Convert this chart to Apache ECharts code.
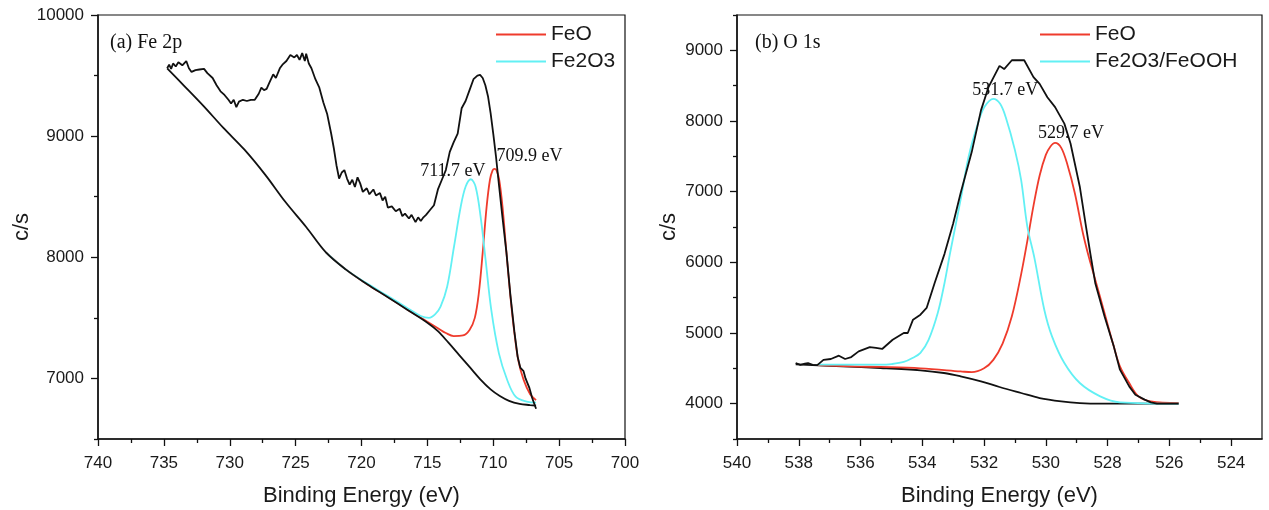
<!DOCTYPE html>
<html>
<head>
<meta charset="utf-8">
<title>XPS Fe 2p / O 1s</title>
<script src="https://cdn.jsdelivr.net/npm/echarts@6/dist/echarts.min.js"></script>
<style>
  html, body { margin: 0; padding: 0; background: #fff; }
  #chart { width: 1269px; height: 510px; }
</style>
</head>
<body>
<div id="chart"></div>
<script>
// ---------- (a) Fe 2p : [binding energy (eV), counts/s] ----------
const feRaw = [
  [734.75,9560],[734.6,9590],[734.45,9555],[734.3,9600],[734.1,9575],[733.9,9610],[733.6,9585],[733.3,9620],
  [733.1,9560],[732.9,9530],[732.6,9545],[732.3,9550],[731.95,9555],[731.7,9520],[731.3,9480],[731.0,9420],
  [730.7,9370],[730.4,9340],[730.1,9300],[729.9,9270],[729.7,9300],[729.5,9240],[729.3,9285],[729.0,9300],
  [728.7,9290],[728.4,9300],[728.1,9300],[727.8,9350],[727.6,9400],[727.4,9380],[727.2,9390],[727.0,9440],
  [726.7,9510],[726.5,9480],[726.2,9560],[726.0,9590],[725.7,9620],[725.4,9670],[725.1,9650],[724.9,9670],
  [724.7,9630],[724.5,9685],[724.3,9620],[724.2,9680],[724.0,9600],[723.8,9560],[723.5,9470],[723.2,9400],
  [722.9,9280],[722.6,9180],[722.3,9020],[722.1,8900],[721.9,8760],[721.7,8650],[721.5,8700],[721.3,8720],
  [721.1,8650],[720.9,8600],[720.7,8640],[720.5,8580],[720.3,8660],[720.1,8610],[719.9,8540],[719.6,8570],
  [719.4,8520],[719.1,8560],[718.9,8510],[718.6,8530],[718.4,8470],[718.2,8500],[718.0,8410],[717.7,8420],
  [717.4,8380],[717.1,8400],[716.9,8340],[716.7,8360],[716.4,8320],[716.2,8350],[715.9,8290],[715.7,8330],
  [715.5,8300],[715.3,8330],[715.1,8350],[714.8,8390],[714.5,8430],[714.2,8560],[713.9,8640],[713.6,8720],
  [713.3,8870],[713.0,8950],[712.7,9020],[712.4,9230],[712.1,9290],[711.8,9380],[711.5,9470],[711.2,9500],
  [711.0,9505],[710.8,9480],[710.6,9420],[710.4,9330],[710.2,9190],[710.0,9020],[709.8,8840],[709.55,8580],
  [709.3,8330],[709.0,8040],[708.7,7690],[708.4,7390],[708.15,7180],[707.95,7090],[707.7,7060],[707.55,7000],
  [707.4,6995],[707.25,6920],[707.05,6840],[706.75,6750]
];
const feBackground = [
  [734.75,9560],[733.5,9420],[732.0,9250],[730.5,9070],[728.9,8890],[727.3,8680],[725.8,8460],[724.2,8250],
  [722.7,8040],[721.2,7900],[719.6,7780],[718.0,7670],[716.5,7565],[715.0,7460],[714.2,7390],[713.4,7295],
  [712.6,7195],[711.8,7095],[711.0,6995],[710.2,6910],[709.5,6855],[708.8,6815],[708.0,6790],[707.2,6780],
  [706.75,6775]
];
const feFeOPeak = [709.9, 8730];
const feFeO = [
  [722.7,8040],[721.2,7900],[719.6,7780],[718.0,7672],[716.5,7568],[715.0,7468],[714.2,7415],[713.6,7375],
  [713.0,7350],[712.3,7355],[711.8,7400],[711.4,7500],[711.1,7700],[710.8,8040],[710.5,8420],[710.25,8640],
  [710.05,8718],feFeOPeak,[709.75,8718],[709.55,8640],[709.3,8420],[709.0,8040],[708.7,7680],[708.4,7380],
  [708.1,7150],[707.7,6990],[707.2,6870],[706.75,6821]
];
const feFe2O3Peak = [711.7, 8644];
const feFe2O3 = [
  [722.7,8040],[721.2,7900],[719.6,7785],[718.0,7680],[716.5,7580],[715.5,7515],[714.88,7500],[714.4,7530],
  [714.0,7592],[713.5,7757],[712.98,8087],[712.47,8417],[712.1,8582],feFe2O3Peak,[711.34,8582],[710.96,8335],
  [710.58,7978],[710.15,7565],[709.57,7207],[708.94,6987],[708.3,6849],[707.46,6808],[706.75,6800]
];

// ---------- (b) O 1s ----------
const oRaw = [
  [538.1,4575],[537.95,4550],[537.8,4565],[537.7,4575],[537.55,4550],[537.4,4545],[537.2,4620],[536.96,4632],
  [536.7,4679],[536.5,4632],[536.3,4660],[536.06,4740],[535.7,4800],[535.5,4788],[535.3,4774],[534.96,4905],
  [534.6,5000],[534.47,5000],[534.3,5189],[534.06,5259],[533.86,5354],[533.6,5708],[533.28,6120],[533.0,6550],
  [532.76,6977],[532.4,7560],[532.1,8150],[531.86,8475],[531.5,8780],[531.35,8735],[531.1,8860],[530.7,8860],
  [530.4,8620],[530.2,8525],[529.95,8337],[529.7,8197],[529.4,7963],[529.2,7681],[528.9,7070],[528.7,6510],
  [528.55,6100],[528.4,5708],[528.1,5236],[527.8,4811],[527.6,4481],[527.3,4245],[527.1,4127],[526.8,4057],
  [526.6,4019],[526.4,4000],[525.7,4000]
];
const oBackground = [
  [538.1,4555],[536.6,4528],[535.35,4505],[534.06,4472],[533.3,4434],[532.76,4387],[532.1,4316],[531.5,4236],
  [530.8,4151],[530.2,4080],[529.5,4033],[528.9,4009],[528.24,4000],[525.7,4000]
];
const oFeOPeak = [529.7, 7691];
const oFeO = [
  [537.4,4545],[536.0,4525],[535.35,4520],[534.06,4500],[532.76,4457],[532.4,4445],[532.0,4500],[531.7,4620],
  [531.4,4850],[531.1,5236],[530.8,5830],[530.6,6300],[530.4,6800],[530.2,7230],[530.0,7520],[529.85,7640],
  oFeOPeak,[529.5,7620],[529.3,7380],[529.06,6977],[528.8,6415],[528.6,6063],[528.4,5755],[528.1,5283],
  [527.8,4811],[527.6,4528],[527.3,4292],[527.0,4104],[526.6,4033],[525.7,4009]
];
const oFe2O3Peak = [531.7, 8314];
const oFe2O3 = [
  [537.4,4552],[535.35,4552],[535.0,4560],[534.6,4590],[534.3,4650],[534.06,4720],[533.8,4900],[533.5,5283],
  [533.28,5708],[533.1,6132],[532.76,6883],[532.5,7494],[532.2,7963],[531.99,8197],oFe2O3Peak,[531.48,8244],
  [531.3,8056],[531.0,7588],[530.8,7166],[530.6,6510],[530.37,6063],[530.05,5330],[529.8,4953],[529.4,4575],
  [528.9,4292],[528.24,4104],[527.6,4019],[525.7,4000]
];

// ---------- axis ticks ----------
const feXTicks = [740, 735, 730, 725, 720, 715, 710, 705, 700];
const feXMinor = [737.5, 732.5, 727.5, 722.5, 717.5, 712.5, 707.5, 702.5];
const feYTicks = [7000, 8000, 9000, 10000];
const feYMinor = [6500, 7500, 8500, 9500];
const oXTicks = [540, 538, 536, 534, 532, 530, 528, 526, 524];
const oXMinor = [539, 537, 535, 533, 531, 529, 527, 525];
const oYTicks = [4000, 5000, 6000, 7000, 8000, 9000];
const oYMinor = [3500, 4500, 5500, 6500, 7500, 8500, 9500];

const SANS = 'Liberation Sans, Arial, Helvetica, sans-serif';
const SERIF = 'Liberation Serif, Times New Roman, serif';
const INK = '#111111';
const RED = '#ef3b2c';
const CYAN = '#62f0f4';
const plain = v => String(v);

function mainX(grid, min, max, ticks) {
  return {
    type: 'value', gridIndex: grid, position: 'bottom', min, max, inverse: true,
    name: 'Binding Energy (eV)', nameLocation: 'middle', nameGap: 46,
    nameTextStyle: { fontFamily: SANS, fontSize: 22, color: '#1a1a1a' },
    axisLine: { show: true, onZero: false, lineStyle: { color: INK, width: 1.5 } },
    axisTick: { show: true, inside: false, length: 7, customValues: ticks, lineStyle: { color: INK, width: 1.3 } },
    axisLabel: { show: true, customValues: ticks, formatter: plain, margin: 16, fontFamily: SANS, fontSize: 17, color: '#1a1a1a' },
    splitLine: { show: false }
  };
}
function minorX(grid, min, max, ticks) {
  return {
    type: 'value', gridIndex: grid, position: 'bottom', min, max, inverse: true,
    axisLine: { show: false, onZero: false },
    axisTick: { show: true, inside: false, length: 4, customValues: ticks, lineStyle: { color: INK, width: 1.3 } },
    axisLabel: { show: false }, splitLine: { show: false }
  };
}
function mainY(grid, min, max, ticks, nameGap) {
  return {
    type: 'value', gridIndex: grid, position: 'left', min, max,
    name: 'c/s', nameLocation: 'middle', nameGap, nameRotate: 90,
    nameTextStyle: { fontFamily: SANS, fontSize: 22, color: '#1a1a1a' },
    axisLine: { show: true, onZero: false, lineStyle: { color: INK, width: 1.5 } },
    axisTick: { show: true, inside: false, length: 7, customValues: ticks, lineStyle: { color: INK, width: 1.3 } },
    axisLabel: { show: true, customValues: ticks, formatter: plain, margin: 14, fontFamily: SANS, fontSize: 17, color: '#1a1a1a' },
    splitLine: { show: false }
  };
}
function minorY(grid, min, max, ticks) {
  return {
    type: 'value', gridIndex: grid, position: 'left', min, max,
    axisLine: { show: false, onZero: false },
    axisTick: { show: true, inside: false, length: 4, customValues: ticks, lineStyle: { color: INK, width: 1.3 } },
    axisLabel: { show: false }, splitLine: { show: false }
  };
}

function curve(name, data, color, axis, smooth, z) {
  return {
    name, type: 'line', data, xAxisIndex: axis, yAxisIndex: axis,
    symbol: 'none', smooth, z, silent: true, animation: false,
    lineStyle: { color, width: 1.8 }, itemStyle: { color }
  };
}
// peak position annotation, text derived from the peak energy
function peakLabel(peak, offset, align) {
  return {
    symbol: 'circle', symbolSize: 1, itemStyle: { color: 'transparent' },
    animation: false, silent: true,
    data: [{
      coord: peak,
      label: {
        show: true, position: 'inside', align, verticalAlign: 'middle', offset,
        formatter: peak[0].toFixed(1) + ' eV',
        fontFamily: SERIF, fontSize: 18, color: INK
      }
    }]
  };
}

// fitted components sit under the background line where they coincide with it
const feFeOSeries = curve('FeO', feFeO, RED, 0, 0.35, 2);
feFeOSeries.markPoint = peakLabel(feFeOPeak, [2, -13], 'left');
const feFe2O3Series = curve('Fe2O3', feFe2O3, CYAN, 0, 0.35, 3);
feFe2O3Series.markPoint = peakLabel(feFe2O3Peak, [-18, -8], 'center');
const oFeOSeries = curve('FeO', oFeO, RED, 2, 0.35, 3);
oFeOSeries.markPoint = peakLabel(oFeOPeak, [16, -10], 'center');
const oFe2O3Series = curve('Fe2O3/FeOOH', oFe2O3, CYAN, 2, 0.35, 4);
oFe2O3Series.markPoint = peakLabel(oFe2O3Peak, [12, -9], 'center');

const legendBase = {
  orient: 'vertical', icon: 'rect', itemWidth: 50, itemHeight: 2, itemGap: 6,
  selectedMode: false, padding: 0,
  textStyle: { fontFamily: SANS, fontSize: 21, color: '#1a1a1a' }
};

const gridBase = {
  top: 15, height: 424, show: true, borderColor: INK, borderWidth: 1.2,
  backgroundColor: 'transparent', containLabel: false, outerBoundsMode: 'none'
};

const option = {
  backgroundColor: '#ffffff',
  animation: false,
  title: [
    { text: '(a) Fe 2p', left: 110, top: 33, padding: 0,
      textStyle: { fontFamily: SERIF, fontSize: 20, fontWeight: 'normal', color: INK } },
    { text: '(b) O 1s', left: 755, top: 33, padding: 0,
      textStyle: { fontFamily: SERIF, fontSize: 20, fontWeight: 'normal', color: INK } }
  ],
  legend: [
    Object.assign({}, legendBase, { data: ['FeO', 'Fe2O3'], left: 496, top: 24 }),
    Object.assign({}, legendBase, { data: ['FeO', 'Fe2O3/FeOOH'], left: 1040, top: 24 })
  ],
  grid: [
    Object.assign({}, gridBase, { left: 98, width: 527 }),
    Object.assign({}, gridBase, { left: 737, width: 525 })
  ],
  xAxis: [
    mainX(0, 700, 740, feXTicks), minorX(0, 700, 740, feXMinor),
    mainX(1, 523, 540, oXTicks), minorX(1, 523, 540, oXMinor)
  ],
  yAxis: [
    mainY(0, 6500, 10000, feYTicks, 63), minorY(0, 6500, 10000, feYMinor),
    mainY(1, 3500, 9500, oYTicks, 57), minorY(1, 3500, 9500, oYMinor)
  ],
  series: [
    feFeOSeries,
    feFe2O3Series,
    curve('Fe 2p background', feBackground, INK, 0, 0.35, 4),
    curve('Fe 2p', feRaw, INK, 0, false, 5),
    curve('O 1s background', oBackground, INK, 2, 0.35, 2),
    oFeOSeries,
    oFe2O3Series,
    curve('O 1s', oRaw, INK, 2, false, 5)
  ]
};

const chart = echarts.init(document.getElementById('chart'), null, { renderer: 'canvas' });
chart.setOption(option);
</script>
</body>
</html>
